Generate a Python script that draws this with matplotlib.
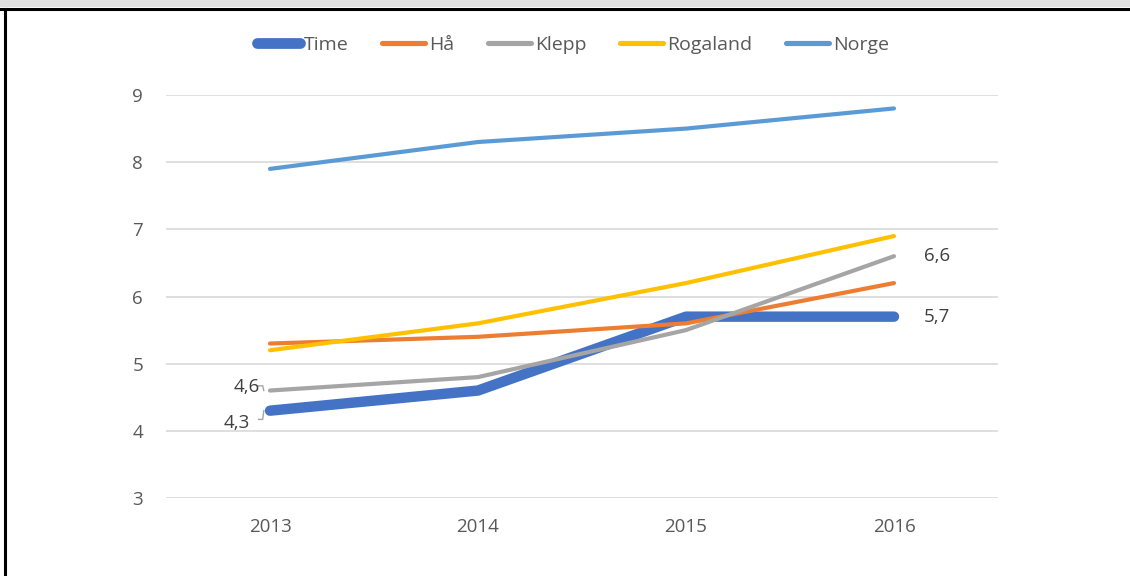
import matplotlib
matplotlib.use("Agg")
import matplotlib.pyplot as plt
from matplotlib.lines import Line2D
from matplotlib.patches import Rectangle

years = ["2013", "2014", "2015", "2016"]
time_v = [4.3, 4.6, 5.7, 5.7]
ha_v = [5.3, 5.4, 5.6, 6.2]
klepp_v = [4.6, 4.8, 5.5, 6.6]
rogaland_v = [5.2, 5.6, 6.2, 6.9]
norge_v = [7.9, 8.3, 8.5, 8.8]
series_names = ["Time", "Hå", "Klepp", "Rogaland", "Norge"]
yticks = [3, 4, 5, 6, 7, 8, 9]

plt.rcParams['font.family'] = ['Open Sans', 'DejaVu Sans']

W, H = 1130, 576
fig = plt.figure(figsize=(W / 100, H / 100), dpi=100)

# frame decorations
fig.patches.append(Rectangle((0, 1 - 7 / H), 1, 7 / H, transform=fig.transFigure,
                             facecolor="#e0e0e0", edgecolor="none", zorder=0))
fig.lines.append(Line2D([0, 1], [1 - 8.5 / H, 1 - 8.5 / H], transform=fig.transFigure,
                        color="black", lw=2.2))
fig.lines.append(Line2D([5 / W, 5 / W], [0, 1 - 8.5 / H], transform=fig.transFigure,
                        color="black", lw=2.2))

left, right = 166 / W, 998 / W
bottom, top = 1 - 498 / H, 1 - 95 / H
ax = fig.add_axes([left, bottom, right - left, top - bottom])

x = list(range(len(years)))
colors = ["#4472c4", "#ed7d31", "#a5a5a5", "#ffc000", "#5b9bd5"]
data = [time_v, ha_v, klepp_v, rogaland_v, norge_v]
widths = [7.5, 3, 3, 3, 3]
handles = []
for name, vals, c, lw in zip(series_names, data, colors, widths):
    ln, = ax.plot(x, vals, color=c, lw=lw, solid_capstyle="round",
                  solid_joinstyle="round", label=name, zorder=3)
    handles.append(ln)

ax.set_xlim(-0.5, 3.5)
ax.set_ylim(3, 9)
ax.set_yticks(yticks)
ax.set_yticklabels([str(v) for v in yticks])
ax.set_xticks(x)
ax.set_xticklabels(years)
ax.grid(axis="y", color="#d9d9d9", lw=1.2, zorder=0)
for s in ax.spines.values():
    s.set_visible(False)
ax.tick_params(length=0, labelsize=13.5, labelcolor="#595959")
ax.tick_params(axis="y", pad=16.5)
ax.tick_params(axis="x", pad=14.5)

lab_col = "#404040"
fs_lab = 13.5

def fmt(v):
    return f"{v:.1f}".replace(".", ",")

ax.annotate(fmt(klepp_v[0]), xy=(x[0], klepp_v[0]), xytext=(-17, 2.5), textcoords="offset points",
            ha="center", va="center", fontsize=fs_lab, color=lab_col)
ax.plot([-0.055, -0.035, -0.03], [4.67, 4.67, 4.6], color="#a5a5a5", lw=1, zorder=2)
ax.annotate(fmt(time_v[0]), xy=(x[0], time_v[0]), xytext=(-24, -9), textcoords="offset points",
            ha="center", va="center", fontsize=fs_lab, color=lab_col)
ax.plot([-0.055, -0.035, -0.03], [4.17, 4.17, 4.3], color="#a5a5a5", lw=1, zorder=2)
ax.annotate(fmt(klepp_v[3]), xy=(x[3], klepp_v[3]), xytext=(31, 0), textcoords="offset points",
            ha="center", va="center", fontsize=fs_lab, color=lab_col)
ax.annotate(fmt(time_v[3]), xy=(x[3], time_v[3]), xytext=(31, 0), textcoords="offset points",
            ha="center", va="center", fontsize=fs_lab, color=lab_col)

leg = fig.legend(handles=handles, labels=series_names, loc="center",
                 bbox_to_anchor=(573 / W, 1 - 45 / H), ncol=5, frameon=False,
                 fontsize=14, labelcolor="#595959", handlelength=2.2, handletextpad=0.2,
                 columnspacing=1.75)
for lh, lw in zip(leg.get_lines(), widths):
    lh.set_linewidth(lw * 0.9 + 1)

fig.savefig("out.png", dpi=100)
